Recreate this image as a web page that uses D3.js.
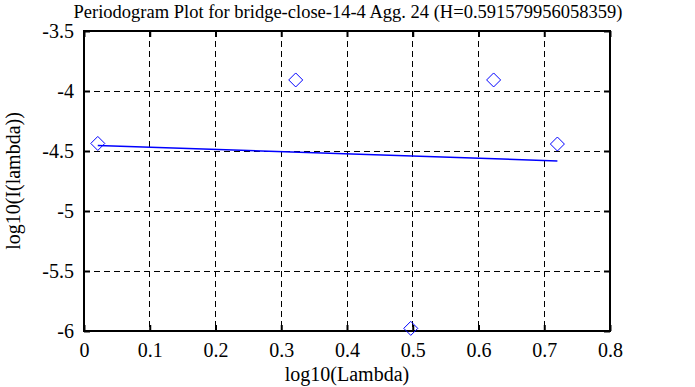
<!DOCTYPE html>
<html>
<head>
<meta charset="utf-8">
<script src="https://cdn.jsdelivr.net/npm/d3@7"></script>
<style>
  body { margin: 0; background: #fff; }
</style>
</head>
<body>
<div id="chart"></div>
<script>
// data
let logLambda = [0.021, 0.322, 0.497, 0.623, 0.720];
let logPeriodogram = [-4.437, -3.908, -5.978, -3.908, -4.442];
let fitX = [0.021, 0.720];
let hurst = 0.591579956058359;
let fitIntercept = -4.451;
let xTicks = [0, 0.1, 0.2, 0.3, 0.4, 0.5, 0.6, 0.7, 0.8];
let yTicks = [-3.5, -4, -4.5, -5, -5.5, -6];

var serif = '"Liberation Serif", "DejaVu Serif", serif';
var margin = {top: 31, right: 85, bottom: 56, left: 84},
    width = 695 - margin.left - margin.right,
    height = 387 - margin.top - margin.bottom;

var x = d3.scaleLinear().domain([0, 0.8]).range([0, width]);
var y = d3.scaleLinear().domain([-6, -3.5]).range([height, 0]);

var root = d3.select("#chart").append("svg")
    .attr("width", 695)
    .attr("height", 387);

// title
root.append("text")
  .attr("x", 348)
  .attr("y", 18)
  .attr("text-anchor", "middle")
  .style("font-family", serif)
  .style("font-size", "18.5px")
  .text("Periodogram Plot for bridge-close-14-4 Agg. 24 (H=" + hurst + ")");

var svg = root.append("g")
  .attr("transform", "translate(" + margin.left + "," + margin.top + ")");

// dashed grid
svg.selectAll(".vgrid")
  .data(xTicks.slice(1, -1))
  .enter().append("line")
    .attr("x1", d => x(d)).attr("x2", d => x(d))
    .attr("y1", 0).attr("y2", height)
    .attr("stroke", "#000").attr("stroke-width", 1)
    .attr("stroke-dasharray", "6,4")
    .attr("shape-rendering", "crispEdges");
svg.selectAll(".hgrid")
  .data(yTicks.slice(1, -1))
  .enter().append("line")
    .attr("x1", 0).attr("x2", width)
    .attr("y1", d => y(d)).attr("y2", d => y(d))
    .attr("stroke", "#000").attr("stroke-width", 1)
    .attr("stroke-dasharray", "6,4")
    .attr("shape-rendering", "crispEdges");

// axes with inward ticks on all four sides
function styleAxis(g) {
  g.select(".domain").remove();
  g.selectAll(".tick line").attr("stroke-width", 2);
  g.selectAll("text")
    .style("font-family", serif)
    .style("font-size", "20px")
    .attr("fill", "#000");
}
svg.append("g")
  .attr("transform", "translate(0," + height + ")")
  .call(d3.axisBottom(x).tickValues(xTicks).tickSize(-6).tickPadding(9).tickFormat(d => String(d)))
  .call(styleAxis)
  .selectAll("text").attr("dy", "0.85em");
svg.append("g")
  .call(d3.axisTop(x).tickValues(xTicks).tickSize(-6).tickFormat(""))
  .call(styleAxis);
svg.append("g")
  .call(d3.axisLeft(y).tickValues(yTicks).tickSize(-6).tickPadding(10).tickFormat(d => String(d)))
  .call(styleAxis);
svg.append("g")
  .attr("transform", "translate(" + width + ",0)")
  .call(d3.axisRight(y).tickValues(yTicks).tickSize(-6).tickFormat(""))
  .call(styleAxis);

// frame
svg.append("rect")
  .attr("x", 0).attr("y", 0)
  .attr("width", width).attr("height", height)
  .attr("fill", "none").attr("stroke", "#000").attr("stroke-width", 2);

// least squares fit, slope = 1 - 2H
var slope = 1 - 2 * hurst;
svg.append("path")
  .datum(fitX)
  .attr("fill", "none")
  .attr("stroke", "#0000ff")
  .attr("stroke-width", 1.5)
  .attr("d", d3.line().x(d => x(d)).y(d => y(fitIntercept + slope * d)));

// periodogram points as diamonds
svg.selectAll(".pt")
  .data(logLambda)
  .enter().append("path")
    .attr("fill", "none")
    .attr("stroke", "#0000ff")
    .attr("stroke-width", 1)
    .attr("d", (d, i) => {
      var cx = x(d), cy = y(logPeriodogram[i]), r = 7;
      return "M" + cx + "," + (cy - r) + "L" + (cx + r) + "," + cy +
             "L" + cx + "," + (cy + r) + "L" + (cx - r) + "," + cy + "Z";
    });

// axis titles
root.append("text")
  .attr("x", margin.left + width / 2)
  .attr("y", 381)
  .attr("text-anchor", "middle")
  .style("font-family", serif)
  .style("font-size", "20px")
  .text("log10(Lambda)");
root.append("text")
  .attr("transform", "translate(20," + (margin.top + height / 2) + ") rotate(-90)")
  .attr("text-anchor", "middle")
  .style("font-family", serif)
  .style("font-size", "20px")
  .text("log10(I(lambda))");
</script>
</body>
</html>
